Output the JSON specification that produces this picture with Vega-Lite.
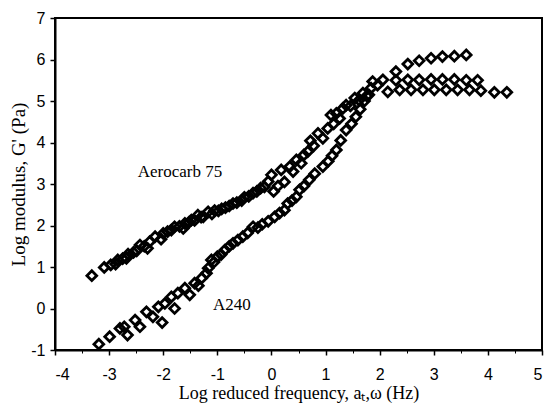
{
  "$schema": "https://vega.github.io/schema/vega-lite/v6.json",
  "width": 487,
  "height": 332,
  "autosize": {"type": "none"},
  "padding": {"left": 55, "top": 18, "right": 8, "bottom": 56},
  "background": "white",
  "config": {
    "view": {"stroke": "black", "strokeWidth": 2},
    "axis": {
      "domainColor": "black", "domainWidth": 2,
      "tickColor": "black", "tickWidth": 1.5, "tickSize": 5,
      "labelFont": "Liberation Sans", "labelFontSize": 16, "labelColor": "black",
      "titleFont": "Liberation Serif", "titleFontWeight": "normal", "titleColor": "black",
      "grid": false
    }
  },
  "resolve": {"axis": {"x": "independent"}},
  "datasets": {
    "pts": [
      {"s": "Aerocarb 75", "x": -3.32, "y": 0.79}, {"s": "Aerocarb 75", "x": -3.09, "y": 0.99},
      {"s": "Aerocarb 75", "x": -2.97, "y": 1.05}, {"s": "Aerocarb 75", "x": -2.88, "y": 1.07},
      {"s": "Aerocarb 75", "x": -2.84, "y": 1.17}, {"s": "Aerocarb 75", "x": -2.75, "y": 1.2},
      {"s": "Aerocarb 75", "x": -2.68, "y": 1.21}, {"s": "Aerocarb 75", "x": -2.65, "y": 1.31},
      {"s": "Aerocarb 75", "x": -2.55, "y": 1.35}, {"s": "Aerocarb 75", "x": -2.49, "y": 1.39},
      {"s": "Aerocarb 75", "x": -2.43, "y": 1.53}, {"s": "Aerocarb 75", "x": -2.35, "y": 1.5},
      {"s": "Aerocarb 75", "x": -2.29, "y": 1.45}, {"s": "Aerocarb 75", "x": -2.25, "y": 1.61},
      {"s": "Aerocarb 75", "x": -2.15, "y": 1.73}, {"s": "Aerocarb 75", "x": -2.04, "y": 1.67},
      {"s": "Aerocarb 75", "x": -2.0, "y": 1.81}, {"s": "Aerocarb 75", "x": -1.92, "y": 1.85},
      {"s": "Aerocarb 75", "x": -1.85, "y": 1.89}, {"s": "Aerocarb 75", "x": -1.79, "y": 1.97},
      {"s": "Aerocarb 75", "x": -1.7, "y": 1.98}, {"s": "Aerocarb 75", "x": -1.63, "y": 1.93},
      {"s": "Aerocarb 75", "x": -1.6, "y": 2.05}, {"s": "Aerocarb 75", "x": -1.52, "y": 2.08},
      {"s": "Aerocarb 75", "x": -1.48, "y": 2.13}, {"s": "Aerocarb 75", "x": -1.42, "y": 2.12},
      {"s": "Aerocarb 75", "x": -1.36, "y": 2.25}, {"s": "Aerocarb 75", "x": -1.3, "y": 2.2},
      {"s": "Aerocarb 75", "x": -1.26, "y": 2.21}, {"s": "Aerocarb 75", "x": -1.17, "y": 2.33},
      {"s": "Aerocarb 75", "x": -1.1, "y": 2.28}, {"s": "Aerocarb 75", "x": -1.05, "y": 2.36},
      {"s": "Aerocarb 75", "x": -0.98, "y": 2.35}, {"s": "Aerocarb 75", "x": -0.92, "y": 2.4},
      {"s": "Aerocarb 75", "x": -0.85, "y": 2.43}, {"s": "Aerocarb 75", "x": -0.78, "y": 2.47},
      {"s": "Aerocarb 75", "x": -0.71, "y": 2.53}, {"s": "Aerocarb 75", "x": -0.64, "y": 2.55},
      {"s": "Aerocarb 75", "x": -0.55, "y": 2.6}, {"s": "Aerocarb 75", "x": -0.5, "y": 2.68},
      {"s": "Aerocarb 75", "x": -0.42, "y": 2.7}, {"s": "Aerocarb 75", "x": -0.34, "y": 2.78},
      {"s": "Aerocarb 75", "x": -0.27, "y": 2.82}, {"s": "Aerocarb 75", "x": -0.2, "y": 2.9},
      {"s": "Aerocarb 75", "x": -0.13, "y": 2.93}, {"s": "Aerocarb 75", "x": -0.06, "y": 3.06},
      {"s": "Aerocarb 75", "x": 0.0, "y": 3.22}, {"s": "Aerocarb 75", "x": 0.04, "y": 2.82},
      {"s": "Aerocarb 75", "x": 0.12, "y": 2.95}, {"s": "Aerocarb 75", "x": 0.18, "y": 3.34},
      {"s": "Aerocarb 75", "x": 0.24, "y": 3.05}, {"s": "Aerocarb 75", "x": 0.34, "y": 3.42},
      {"s": "Aerocarb 75", "x": 0.4, "y": 3.3}, {"s": "Aerocarb 75", "x": 0.46, "y": 3.58},
      {"s": "Aerocarb 75", "x": 0.55, "y": 3.5}, {"s": "Aerocarb 75", "x": 0.6, "y": 3.7},
      {"s": "Aerocarb 75", "x": 0.67, "y": 3.78}, {"s": "Aerocarb 75", "x": 0.72, "y": 4.04},
      {"s": "Aerocarb 75", "x": 0.78, "y": 3.92}, {"s": "Aerocarb 75", "x": 0.86, "y": 4.22},
      {"s": "Aerocarb 75", "x": 0.95, "y": 4.1}, {"s": "Aerocarb 75", "x": 1.04, "y": 4.34},
      {"s": "Aerocarb 75", "x": 1.1, "y": 4.66}, {"s": "Aerocarb 75", "x": 1.15, "y": 4.45},
      {"s": "Aerocarb 75", "x": 1.2, "y": 4.7}, {"s": "Aerocarb 75", "x": 1.26, "y": 4.58},
      {"s": "Aerocarb 75", "x": 1.32, "y": 4.82}, {"s": "Aerocarb 75", "x": 1.38, "y": 4.9},
      {"s": "Aerocarb 75", "x": 1.46, "y": 4.88}, {"s": "Aerocarb 75", "x": 1.54, "y": 5.07},
      {"s": "Aerocarb 75", "x": 1.62, "y": 5.02}, {"s": "Aerocarb 75", "x": 1.69, "y": 5.19},
      {"s": "Aerocarb 75", "x": 1.76, "y": 5.12}, {"s": "Aerocarb 75", "x": 1.84, "y": 5.31},
      {"s": "Aerocarb 75", "x": 1.87, "y": 5.47}, {"s": "Aerocarb 75", "x": 1.96, "y": 5.38},
      {"s": "Aerocarb 75", "x": 2.06, "y": 5.51}, {"s": "Aerocarb 75", "x": 2.3, "y": 5.71},
      {"s": "Aerocarb 75", "x": 2.52, "y": 5.89}, {"s": "Aerocarb 75", "x": 2.73, "y": 5.97},
      {"s": "Aerocarb 75", "x": 2.95, "y": 6.03}, {"s": "Aerocarb 75", "x": 3.16, "y": 6.07},
      {"s": "Aerocarb 75", "x": 3.38, "y": 6.08}, {"s": "Aerocarb 75", "x": 3.6, "y": 6.11},
      {"s": "Aerocarb 75", "x": 2.3, "y": 5.5}, {"s": "Aerocarb 75", "x": 2.52, "y": 5.51},
      {"s": "Aerocarb 75", "x": 2.73, "y": 5.51}, {"s": "Aerocarb 75", "x": 2.95, "y": 5.52},
      {"s": "Aerocarb 75", "x": 3.16, "y": 5.52}, {"s": "Aerocarb 75", "x": 3.38, "y": 5.52},
      {"s": "Aerocarb 75", "x": 3.6, "y": 5.5}, {"s": "Aerocarb 75", "x": 3.81, "y": 5.5},
      {"s": "A240", "x": -3.19, "y": -0.86}, {"s": "A240", "x": -2.99, "y": -0.68},
      {"s": "A240", "x": -2.8, "y": -0.48}, {"s": "A240", "x": -2.72, "y": -0.44},
      {"s": "A240", "x": -2.66, "y": -0.64}, {"s": "A240", "x": -2.52, "y": -0.28},
      {"s": "A240", "x": -2.43, "y": -0.44}, {"s": "A240", "x": -2.31, "y": -0.08},
      {"s": "A240", "x": -2.19, "y": -0.2}, {"s": "A240", "x": -2.09, "y": 0.04},
      {"s": "A240", "x": -2.02, "y": -0.34}, {"s": "A240", "x": -1.97, "y": 0.12},
      {"s": "A240", "x": -1.85, "y": 0.28}, {"s": "A240", "x": -1.79, "y": 0.0},
      {"s": "A240", "x": -1.73, "y": 0.37}, {"s": "A240", "x": -1.6, "y": 0.49},
      {"s": "A240", "x": -1.51, "y": 0.33}, {"s": "A240", "x": -1.42, "y": 0.61},
      {"s": "A240", "x": -1.35, "y": 0.55}, {"s": "A240", "x": -1.29, "y": 0.73},
      {"s": "A240", "x": -1.2, "y": 0.85}, {"s": "A240", "x": -1.17, "y": 0.97},
      {"s": "A240", "x": -1.11, "y": 1.17}, {"s": "A240", "x": -1.06, "y": 1.12},
      {"s": "A240", "x": -1.0, "y": 1.25}, {"s": "A240", "x": -0.93, "y": 1.3},
      {"s": "A240", "x": -0.86, "y": 1.41}, {"s": "A240", "x": -0.78, "y": 1.5},
      {"s": "A240", "x": -0.71, "y": 1.57}, {"s": "A240", "x": -0.62, "y": 1.65},
      {"s": "A240", "x": -0.53, "y": 1.73}, {"s": "A240", "x": -0.44, "y": 1.82},
      {"s": "A240", "x": -0.34, "y": 1.97}, {"s": "A240", "x": -0.25, "y": 1.95},
      {"s": "A240", "x": -0.17, "y": 2.03}, {"s": "A240", "x": -0.06, "y": 2.1},
      {"s": "A240", "x": 0.06, "y": 2.21}, {"s": "A240", "x": 0.15, "y": 2.3},
      {"s": "A240", "x": 0.24, "y": 2.37}, {"s": "A240", "x": 0.3, "y": 2.53},
      {"s": "A240", "x": 0.38, "y": 2.6}, {"s": "A240", "x": 0.46, "y": 2.69},
      {"s": "A240", "x": 0.52, "y": 2.86}, {"s": "A240", "x": 0.6, "y": 2.95},
      {"s": "A240", "x": 0.7, "y": 3.1}, {"s": "A240", "x": 0.8, "y": 3.25},
      {"s": "A240", "x": 0.95, "y": 3.42}, {"s": "A240", "x": 1.05, "y": 3.55},
      {"s": "A240", "x": 1.12, "y": 3.68}, {"s": "A240", "x": 1.2, "y": 3.82},
      {"s": "A240", "x": 1.28, "y": 4.05}, {"s": "A240", "x": 1.38, "y": 4.3},
      {"s": "A240", "x": 1.48, "y": 4.45}, {"s": "A240", "x": 1.56, "y": 4.62},
      {"s": "A240", "x": 1.64, "y": 4.8}, {"s": "A240", "x": 1.72, "y": 5.0},
      {"s": "A240", "x": 1.8, "y": 5.15}, {"s": "A240", "x": 2.15, "y": 5.22},
      {"s": "A240", "x": 2.37, "y": 5.27}, {"s": "A240", "x": 2.58, "y": 5.27},
      {"s": "A240", "x": 2.8, "y": 5.27}, {"s": "A240", "x": 3.01, "y": 5.27},
      {"s": "A240", "x": 3.23, "y": 5.27}, {"s": "A240", "x": 3.44, "y": 5.27},
      {"s": "A240", "x": 3.66, "y": 5.27}, {"s": "A240", "x": 3.87, "y": 5.25},
      {"s": "A240", "x": 4.12, "y": 5.21}, {"s": "A240", "x": 4.35, "y": 5.21}
    ]
  },
  "layer": [
    {
      "data": {"name": "pts"},
      "mark": {"type": "point", "shape": "diamond", "filled": false, "stroke": "black", "strokeWidth": 2.8, "size": 95, "opacity": 1},
      "encoding": {
        "x": {"field": "x", "type": "quantitative",
              "scale": {"domain": [-4, 5], "nice": false, "zero": false},
              "axis": {"values": [-4, -3, -2, -1, 0, 1, 2, 3, 4, 5], "labelExpr": "'' + datum.value",
                       "labelPadding": 11, "titlePadding": 2, "titleFontSize": 18,
                       "title": "Log reduced frequency, aₜ,ω (Hz)"}},
        "y": {"field": "y", "type": "quantitative",
              "scale": {"domain": [-1, 7], "nice": false, "zero": false},
              "axis": {"values": [-1, 0, 1, 2, 3, 4, 5, 6, 7], "labelExpr": "'' + datum.value",
                       "labelPadding": 5, "titlePadding": 2, "titleFontSize": 19,
                       "title": "Log modulus, G' (Pa)"}}
      }
    },
    {
      "data": {"values": [{"t": "Aerocarb 75", "x": -2.47, "y": 3.29}, {"t": "A240", "x": -1.08, "y": 0.08}]},
      "mark": {"type": "text", "font": "Liberation Serif", "fontSize": 17, "align": "left", "baseline": "middle", "color": "black"},
      "encoding": {
        "x": {"field": "x", "type": "quantitative",
              "axis": {"orient": "bottom", "values": [-3.5, -2.5, -1.5, -0.5, 0.5, 1.5, 2.5, 3.5, 4.5],
                       "labels": false, "title": null, "domain": false, "tickSize": 3, "tickWidth": 1}},
        "y": {"field": "y", "type": "quantitative"},
        "text": {"field": "t"}
      }
    }
  ]
}
